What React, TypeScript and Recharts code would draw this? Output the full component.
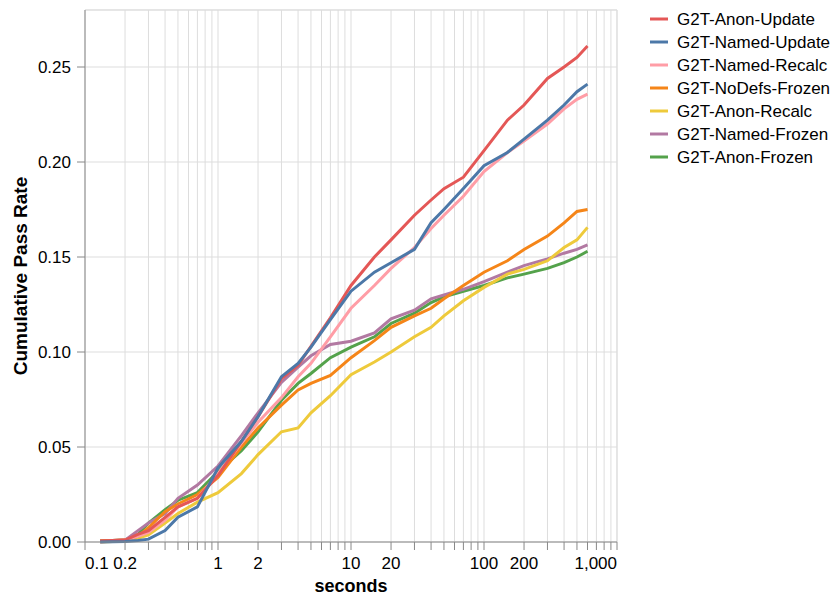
import React from 'react';
import { LineChart, Line, XAxis, YAxis, CartesianGrid, ReferenceLine, Label } from 'recharts';

const times = [0.13, 0.2, 0.25, 0.3, 0.4, 0.5, 0.7, 1, 1.5, 2, 3, 4, 5, 7, 10, 15, 20, 30, 40, 50, 70, 100, 150, 200, 300, 400, 500, 600];

const anonUpdate = [0.0005, 0.001, 0.004, 0.006, 0.013, 0.0185, 0.023, 0.035, 0.053, 0.066, 0.086, 0.093, 0.103, 0.118, 0.135, 0.15, 0.159, 0.172, 0.18, 0.186, 0.192, 0.206, 0.222, 0.23, 0.244, 0.25, 0.255, 0.261];
const namedUpdate = [0, 0.0003, 0.0008, 0.0015, 0.006, 0.013, 0.0185, 0.039, 0.053, 0.066, 0.087, 0.094, 0.1026, 0.117, 0.132, 0.142, 0.147, 0.154, 0.168, 0.175, 0.186, 0.198, 0.205, 0.212, 0.222, 0.23, 0.237, 0.241];
const namedRecalc = [0, 0.001, 0.003, 0.005, 0.0115, 0.0185, 0.023, 0.036, 0.052, 0.063, 0.076, 0.087, 0.094, 0.108, 0.123, 0.135, 0.144, 0.155, 0.165, 0.172, 0.182, 0.195, 0.205, 0.211, 0.22, 0.228, 0.233, 0.2357];
const noDefsFrozen = [0.0005, 0.001, 0.003, 0.0075, 0.016, 0.02, 0.025, 0.034, 0.05, 0.06, 0.072, 0.08, 0.0835, 0.0877, 0.097, 0.106, 0.113, 0.119, 0.123, 0.128, 0.135, 0.142, 0.148, 0.154, 0.161, 0.168, 0.174, 0.175];
const anonRecalc = [0, 0.0005, 0.002, 0.0037, 0.01, 0.015, 0.021, 0.026, 0.036, 0.046, 0.058, 0.06, 0.068, 0.077, 0.088, 0.0947, 0.1, 0.108, 0.113, 0.119, 0.127, 0.134, 0.141, 0.1435, 0.148, 0.155, 0.159, 0.1656];
const namedFrozen = [0.0005, 0.001, 0.006, 0.01, 0.015, 0.023, 0.03, 0.04, 0.056, 0.068, 0.084, 0.092, 0.098, 0.104, 0.1057, 0.11, 0.1175, 0.122, 0.128, 0.13, 0.133, 0.137, 0.142, 0.1455, 0.149, 0.152, 0.154, 0.1564];
const anonFrozen = [0.0005, 0.001, 0.004, 0.01, 0.017, 0.022, 0.026, 0.037, 0.048, 0.058, 0.0746, 0.0835, 0.0887, 0.097, 0.1026, 0.108, 0.115, 0.1204, 0.126, 0.129, 0.132, 0.135, 0.139, 0.141, 0.144, 0.147, 0.15, 0.153];

const xTicks = [
  0.1, 0.2, 0.3, 0.4, 0.5, 0.6, 0.7, 0.8, 0.9,
  1, 2, 3, 4, 5, 6, 7, 8, 9,
  10, 20, 30, 40, 50, 60, 70, 80, 90,
  100, 200, 300, 400, 500, 600, 700, 800, 900,
  1000,
];
const xLabels: Record<string, string> = { '0.1': '0.1', '0.2': '0.2', '1': '1', '2': '2', '10': '10', '20': '20', '100': '100', '200': '200', '1000': '1,000' };
const yTicks = [0, 0.05, 0.1, 0.15, 0.2, 0.25];

// legend order
const series = [
  { name: 'G2T-Anon-Update', values: anonUpdate, color: '#e45756' },
  { name: 'G2T-Named-Update', values: namedUpdate, color: '#4c78a8' },
  { name: 'G2T-Named-Recalc', values: namedRecalc, color: '#ff9da6' },
  { name: 'G2T-NoDefs-Frozen', values: noDefsFrozen, color: '#f58518' },
  { name: 'G2T-Anon-Recalc', values: anonRecalc, color: '#eeca3b' },
  { name: 'G2T-Named-Frozen', values: namedFrozen, color: '#b279a2' },
  { name: 'G2T-Anon-Frozen', values: anonFrozen, color: '#54a24b' },
];
const drawOrder = [6, 5, 4, 3, 2, 0, 1];

const FONT = '"Liberation Sans", Arial, Helvetica, sans-serif';

const XTick = (props: any) => {
  const { x, y, payload } = props;
  const label = xLabels[String(payload.value)];
  if (!label) return null;
  const anchor = payload.value === 0.1 ? 'start' : payload.value === 1000 ? 'end' : 'middle';
  return (
    <text x={x} y={y + 17} textAnchor={anchor} fontSize={17} fontFamily={FONT} fill="#000">
      {label}
    </text>
  );
};

const YTick = (props: any) => {
  const { x, y, payload } = props;
  return (
    <text x={x - 4} y={y + 6} textAnchor="end" fontSize={17} fontFamily={FONT} fill="#000">
      {payload.value.toFixed(2)}
    </text>
  );
};

const YTitle = () => (
  <text x={27} y={276} transform="rotate(-90 27 276)" textAnchor="middle" fontSize={19} fontWeight="bold" fontFamily={FONT} fill="#000">
    Cumulative Pass Rate
  </text>
);

const XTitle = () => (
  <text x={351} y={592} textAnchor="middle" fontSize={18} fontWeight="bold" fontFamily={FONT} fill="#000">
    seconds
  </text>
);

const App: React.FC = () => {
  return (
    <div style={{ position: 'absolute', left: 0, top: 0, width: 837, height: 596, background: '#fff' }}>
      <LineChart width={837} height={596} margin={{ top: 10, right: 220, bottom: 0, left: 0 }}>
        <CartesianGrid stroke="#ddd" strokeWidth={1} />
        <XAxis
          type="number"
          dataKey="t"
          scale="log"
          domain={[0.1, 1000]}
          allowDataOverflow
          ticks={xTicks}
          interval={0}
          height={54}
          stroke="#888"
          tickSize={8}
          tickLine={{ stroke: '#888' }}
          tick={<XTick />}
        >
          <Label content={<XTitle />} />
        </XAxis>
        <YAxis
          type="number"
          domain={[0, 0.28]}
          ticks={yTicks}
          interval={0}
          width={85}
          stroke="#888"
          tickSize={8}
          tickLine={{ stroke: '#888' }}
          tick={<YTick />}
        >
          <Label content={<YTitle />} />
        </YAxis>
        <ReferenceLine y={0.28} stroke="#ddd" />
        <ReferenceLine x={1000} stroke="#ddd" />
        {drawOrder.map((i) => {
          const s = series[i];
          const data = times.map((t, k) => ({ t, v: s.values[k] }));
          return (
            <Line
              key={s.name}
              data={data}
              dataKey="v"
              name={s.name}
              type="linear"
              stroke={s.color}
              strokeWidth={3}
              dot={false}
              isAnimationActive={false}
            />
          );
        })}
      </LineChart>
      <svg width={200} height={180} style={{ position: 'absolute', left: 640, top: 0 }}>
        {series.map((s, i) => (
          <g key={s.name}>
            <line x1={10} x2={28} y1={19 + i * 23} y2={19 + i * 23} stroke={s.color} strokeWidth={3} />
            <text x={37} y={19 + i * 23 + 6} fontSize={17} fontFamily={FONT} fill="#000">
              {s.name}
            </text>
          </g>
        ))}
      </svg>
    </div>
  );
};

export default App;
